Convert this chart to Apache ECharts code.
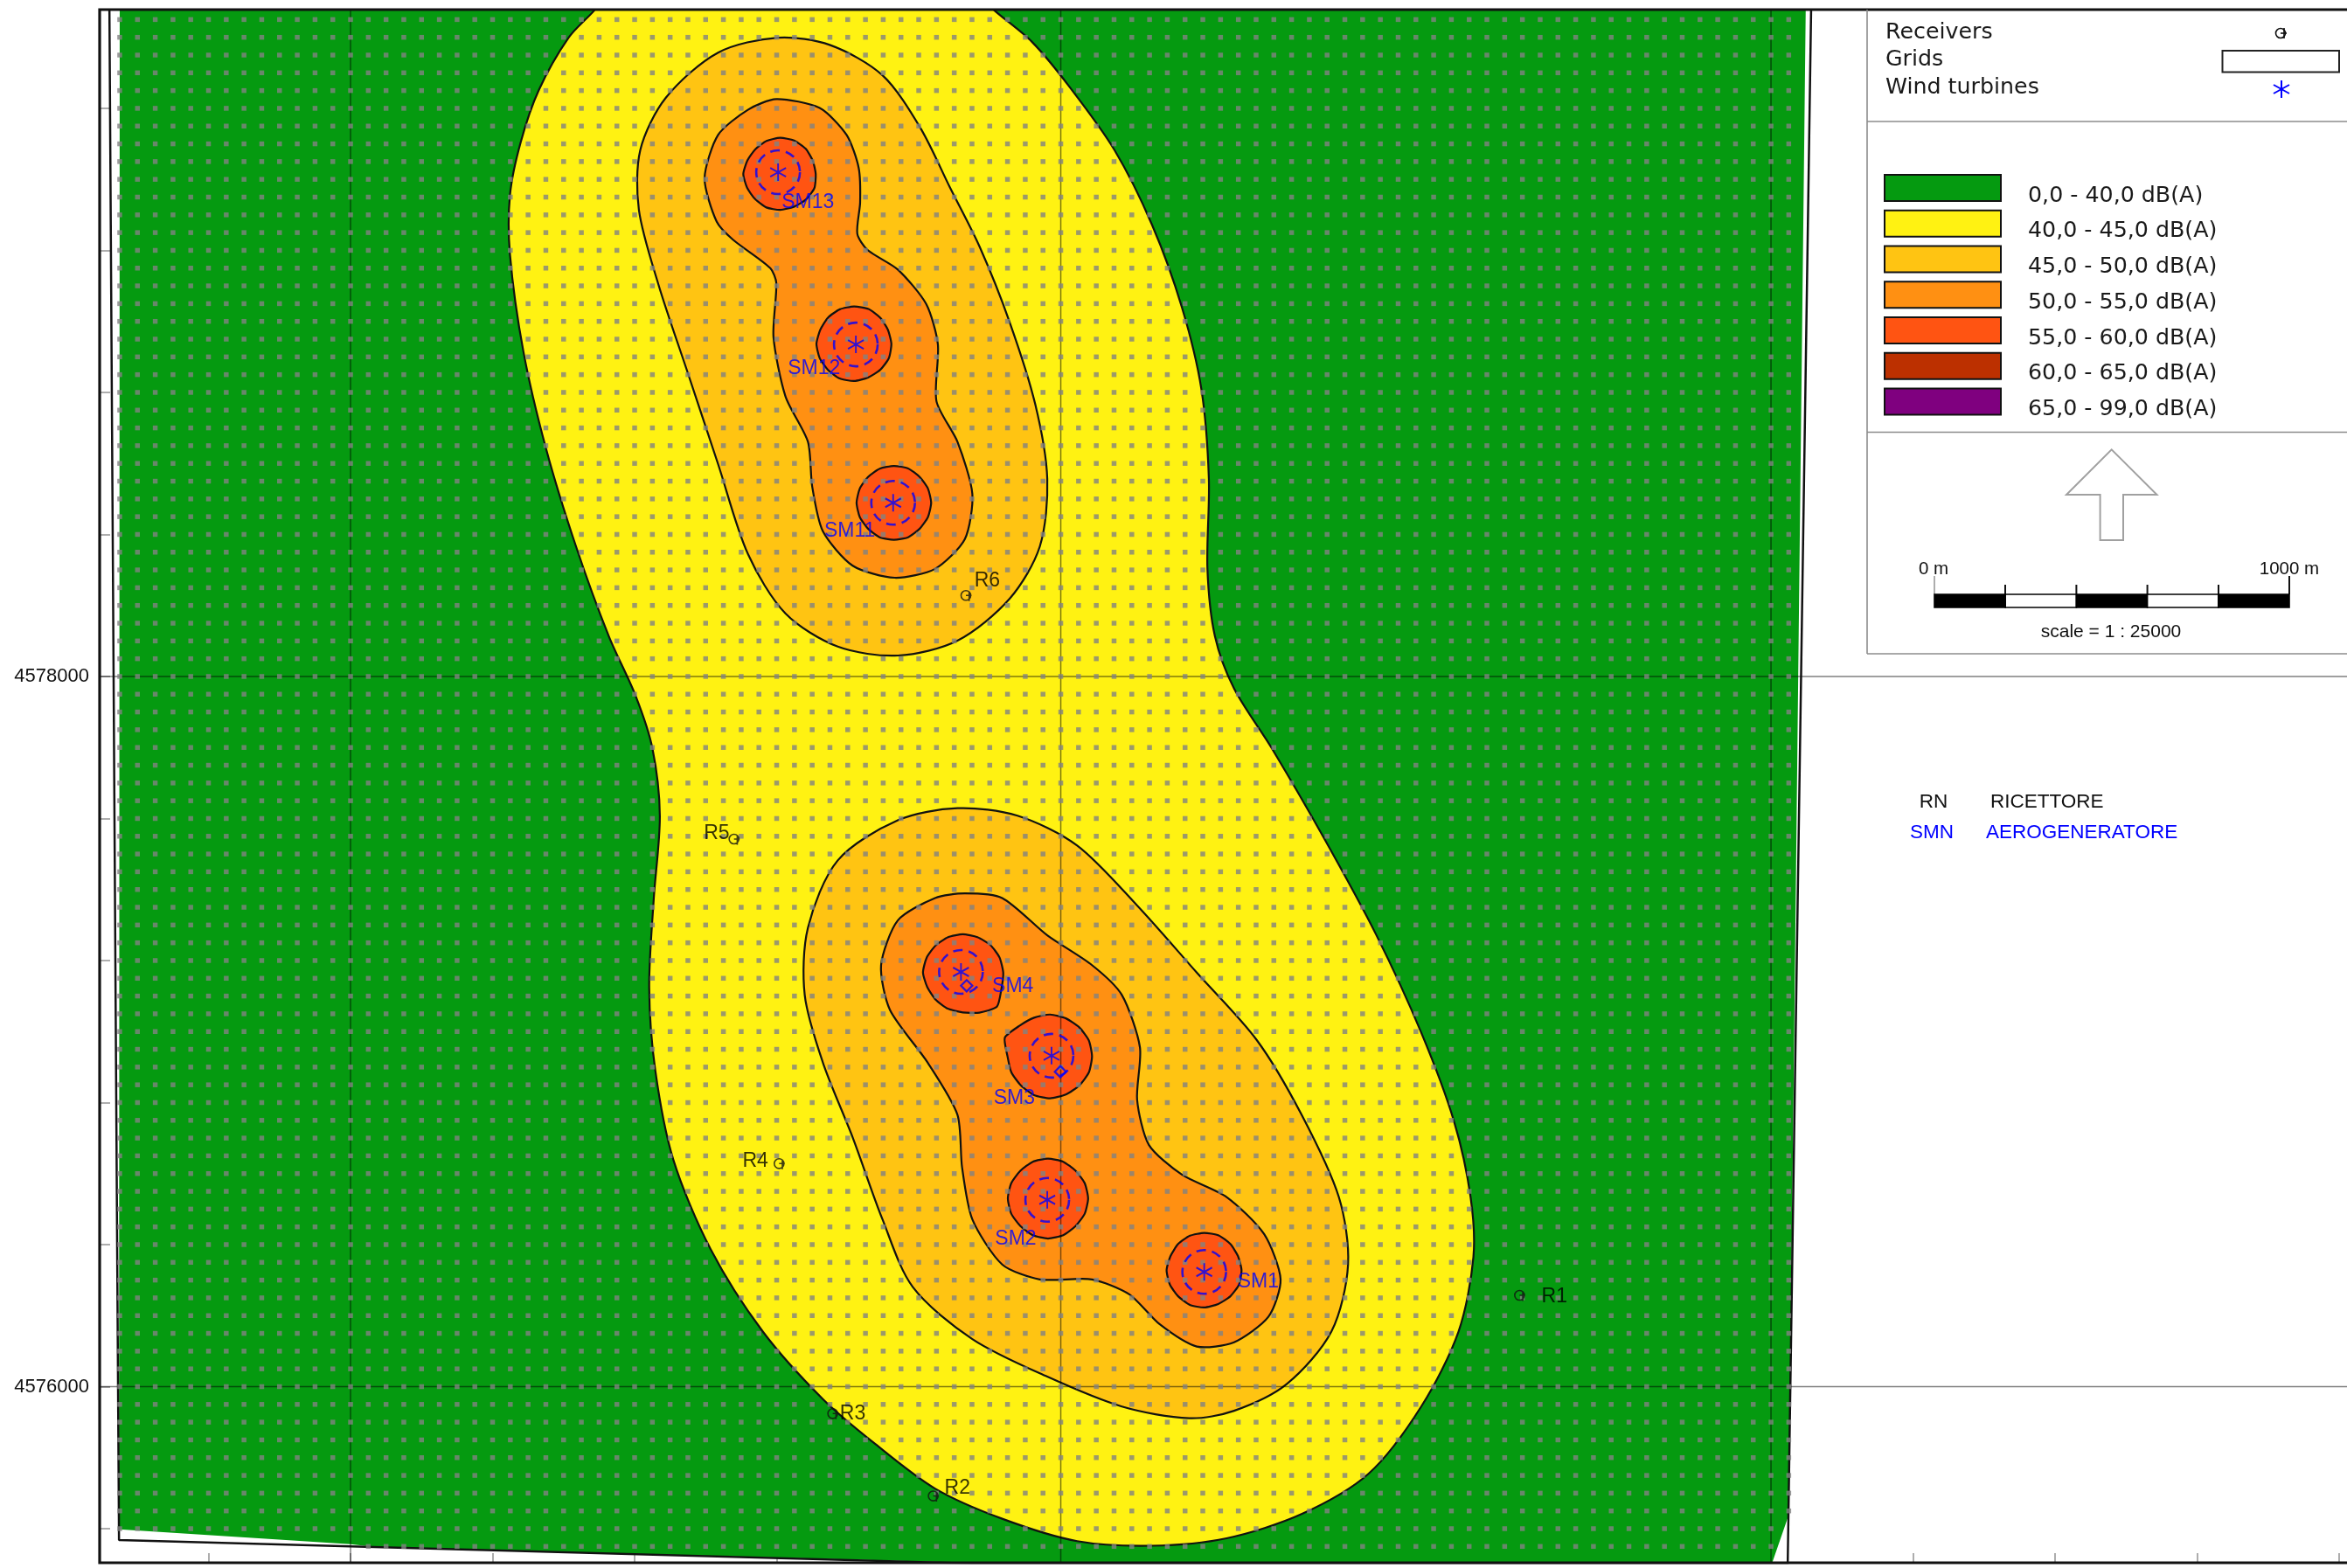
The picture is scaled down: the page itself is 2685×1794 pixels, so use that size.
<!DOCTYPE html>
<html><head><meta charset="utf-8">
<style>html,body{margin:0;padding:0;background:#fff}#c{width:2685px;height:1794px}</style>
<script src="https://cdn.jsdelivr.net/npm/echarts@6/dist/echarts.min.js"></script>
</head><body><div id="c"></div>
<script>
// All map data in metres: [easting, northing - NORTH_BASE]
const NORTH_BASE = 4575000;
const contourGreen = [[1350,4900],[1348,598],[2000,556],[2071,548],[3829,502],[3829,500],[6002,500],[6050,639],[6098,4900]];
const gridBoundary = [[1321,4880],[1348,568],[3829,500],[6047,500],[6113,4880]];
const contour40 = [[3760,4925],[3815,4874],[3920,4786],[4025,4660],[4151,4483],[4257,4272],[4341,4040],[4396,3809],[4417,3556],[4413,3303],[4434,3114],[4488,2966],[4594,2798],[4741,2545],[4889,2271],[5015,1997],[5108,1745],[5154,1534],[5162,1365],[5120,1155],[5015,944],[4867,755],[4678,641],[4467,573],[4257,552],[4046,565],[3835,628],[3646,713],[3477,839],[3330,965],[3161,1155],[3014,1387],[2909,1639],[2858,1892],[2841,2124],[2854,2376],[2871,2608],[2850,2798],[2803,2945],[2727,3114],[2635,3366],[2551,3640],[2487,3914],[2449,4188],[2449,4356],[2479,4504],[2530,4651],[2614,4799],[2685,4874],[2727,4925]];
const contour45North = [[3204,4799],[3351,4778],[3498,4693],[3604,4546],[3688,4377],[3772,4209],[3856,3998],[3928,3767],[3962,3556],[3941,3366],[3856,3219],[3709,3101],[3541,3059],[3372,3084],[3225,3177],[3119,3345],[3035,3598],[2951,3851],[2867,4104],[2812,4314],[2816,4483],[2888,4630],[3035,4757]];
const contour45South = [[3709,2629],[3878,2608],[4046,2524],[4215,2355],[4383,2166],[4552,1976],[4678,1766],[4783,1534],[4809,1344],[4762,1155],[4636,1007],[4488,932],[4362,911],[4172,944],[3962,1028],[3751,1134],[3583,1281],[3498,1471],[3414,1702],[3330,1913],[3279,2103],[3288,2292],[3372,2482],[3541,2595]];
const contour50North = [[3199,4626],[3321,4601],[3397,4525],[3431,4432],[3435,4335],[3427,4247],[3456,4201],[3541,4146],[3621,4049],[3654,3935],[3650,3775],[3709,3661],[3751,3514],[3730,3387],[3646,3303],[3532,3278],[3414,3312],[3330,3409],[3300,3535],[3288,3661],[3225,3788],[3191,3956],[3199,4108],[3182,4150],[3077,4230],[3031,4281],[2997,4403],[3035,4525],[3119,4596]];
const contour50South = [[3730,2389],[3835,2376],[3962,2271],[4088,2187],[4172,2103],[4223,1955],[4215,1808],[4248,1681],[4341,1597],[4467,1534],[4573,1429],[4619,1302],[4585,1197],[4488,1125],[4383,1113],[4278,1176],[4193,1260],[4088,1302],[3941,1302],[3835,1344],[3751,1471],[3722,1618],[3709,1766],[3625,1913],[3519,2061],[3494,2187],[3541,2313],[3646,2376]];
// 55 dB contours: centre [E,n] and radius in metres read at 16 bearings clockwise from north
const ring55Centres = [[3210,4415],[3418,3937],[3530,3489],[3724,2166],[3970,1930],[3964,1530],[4404,1328]];
const ring55Radii = [
 [102,102,101,99,100,104,102,100,101,102,100,101,104,100,99,101],
 [105,106,104,103,105,106,104,103,105,106,104,105,106,103,104,105],
 [104,105,103,104,105,104,103,105,104,105,103,104,105,104,103,104],
 [108,108,110,112,114,118,136,122,112,110,108,108,112,110,108,108],
 [118,116,116,118,118,118,116,116,118,118,116,118,120,138,122,118],
 [112,112,110,112,113,112,110,112,113,112,110,112,113,112,110,112],
 [105,106,104,103,105,106,104,103,105,106,104,105,106,103,104,105]];
const turbineNames = ['SM13','SM12','SM11','SM4','SM3','SM2','SM1'];
const turbinePos = [[3204,4420],[3423,3935],[3528,3489],[3719,2168],[3974,1932],[3962,1526],[4404,1323]];
const turbineLabelPos = [[3288,4335],[3305,3868],[3406,3409],[3865,2128],[3869,1812],[3873,1416],[4556,1294]];
const diamondPos = [[3735,2129],[3999,1887]];
const receiverNames = ['R1','R2','R3','R4','R5','R6'];
const receiverPos = [[5293,1256],[3642,691],[3359,923],[3208,1627],[3081,2541],[3734,3227]];
const receiverLabelPos = [[5390,1252],[3709,713],[3414,923],[3140,1635],[3031,2558],[3793,3270]];
const yTickValues = [4575600,4576000,4576400,4576800,4577200,4577600,4578000,4578400,4578800,4579200,4579600];
const xTickValues = [1600,2000,2400,2800,3200,3600,4000,4400,4800,5200,5600,6000,6400,6800,7200,7600];
const yLabelValues = [4576000,4578000];
const majorEast = [2000,4000,6000];
const majorNorth = [4576000,4578000];
const legendClasses = ['0,0 - 40,0 dB(A)','40,0 - 45,0 dB(A)','45,0 - 50,0 dB(A)','50,0 - 55,0 dB(A)','55,0 - 60,0 dB(A)','60,0 - 65,0 dB(A)','65,0 - 99,0 dB(A)'];
const classColors = ['#059a10','#fff212','#ffc412','#ff9012','#ff5412','#bc3000','#7f007f'];
const symbolLegend = ['Receivers','Grids','Wind turbines'];

const X_MIN=1293.5, X_MAX=7622, Y_MIN=4575504, Y_MAX=4579878;
const abs = pts => pts.map(p=>[p[0],p[1]+NORTH_BASE]);
const ringPts = (c,r)=> r.map((d,i)=>{const a=i*Math.PI/8;return [c[0]+d*Math.sin(a),c[1]+d*Math.cos(a)];});
function inside(pt,poly){let f=false;for(let i=0,j=poly.length-1;i<poly.length;j=i++){const a=poly[i],b=poly[j];
  if((a[1]>pt[1])!==(b[1]>pt[1])&&pt[0]<(b[0]-a[0])*(pt[1]-a[1])/(b[1]-a[1])+a[0])f=!f;}return f;}

// calculation lattice of the noise grid: one receiver point every 50 m, clipped to the grid area
const LATTICE_STEP = 50;
const latticePts=[];
for(let e=1350;e<=6100;e+=LATTICE_STEP)for(let n=500;n<=4850;n+=LATTICE_STEP){ if(inside([e,n-1],contourGreen)||inside([e+0.5,n+0.5],contourGreen)) latticePts.push([e,n+NORTH_BASE]); }

function band(name,pts,color,stroke,smooth,z){
  const P=abs(pts);
  return {type:'custom',name,coordinateSystem:'cartesian2d',clip:true,silent:true,z,animation:false,
    data:[[P[0][0],P[0][1]]],encode:{x:0,y:1},
    renderItem:(p,api)=>({type:'polygon',shape:{points:P.map(q=>api.coord(q)),smooth},
      style:{fill:color,stroke:stroke?'#111':null,lineWidth:2.2}})};
}
const bands=[
 band('g',contourGreen,classColors[0],false,0,2),
 band('c40',contour40,classColors[1],true,0.3,3),
 band('c45n',contour45North,classColors[2],true,0.3,4),
 band('c45s',contour45South,classColors[2],true,0.3,4),
 band('c50n',contour50North,classColors[3],true,0.25,5),
 band('c50s',contour50South,classColors[3],true,0.25,5)];
ring55Centres.forEach((c,i)=>bands.push(band('r'+i,ringPts(c,ring55Radii[i]),classColors[4],true,0.2,6)));

const lineSeries=[];
majorEast.forEach(e=>lineSeries.push({type:'line',data:[[e,Y_MIN],[e,Y_MAX]],showSymbol:false,silent:true,z:7,animation:false,lineStyle:{color:'rgba(0,0,0,0.5)',width:1.5}}));
majorNorth.forEach(n=>lineSeries.push({type:'line',data:[[X_MIN,n],[X_MAX,n]],showSymbol:false,silent:true,z:7,animation:false,lineStyle:{color:'rgba(0,0,0,0.5)',width:1.5}}));
lineSeries.push({type:'line',data:abs(gridBoundary),showSymbol:false,silent:true,z:7,animation:false,lineStyle:{color:'#111',width:2.5}});

const STAR='path://M10 0L10 20M1.3 5L18.7 15M1.3 15L18.7 5';
const RECV='path://M0 6A6 6 0 1 1 12 6A6 6 0 1 1 0 6ZM6 6L13 6M10 1L10 13';
const scatterBase={type:'scatter',silent:true,animation:false};
const labelSeries=(names,pos,color,z)=>({...scatterBase,z,symbolSize:1,itemStyle:{color:'rgba(0,0,0,0)'},
  data:abs(pos).map((p,i)=>({value:p,name:names[i]})),
  label:{show:true,position:'inside',formatter:'{b}',color,fontFamily:'Liberation Sans',fontSize:23}});

const series=[...bands,...lineSeries,
 {...scatterBase,z:8,data:latticePts,symbol:'rect',symbolSize:5.5,itemStyle:{color:'#828282'},progressive:0,large:false},
 {...scatterBase,z:9,data:abs(turbinePos),symbol:'circle',symbolSize:50,itemStyle:{color:'rgba(0,0,0,0)',borderColor:'#0000ff',borderWidth:2.6,borderType:[11,7]}},
 {...scatterBase,z:9,data:abs(turbinePos),symbol:STAR,symbolSize:[18,20],itemStyle:{color:'rgba(0,0,0,0)',borderColor:'#0000ff',borderWidth:2}},
 {...scatterBase,z:9,data:abs(diamondPos),symbol:'diamond',symbolSize:[13,13],itemStyle:{color:'rgba(0,0,0,0)',borderColor:'#0000ff',borderWidth:2.2}},
 {...scatterBase,z:9,data:abs(receiverPos),symbol:RECV,symbolSize:[12,12],itemStyle:{color:'rgba(0,0,0,0)',borderColor:'#111',borderWidth:1.6}},
 labelSeries(turbineNames,turbineLabelPos,'#0000ff',10),
 labelSeries(receiverNames,receiverLabelPos,'#000',10)
];

// page furniture: legend panel, north arrow, scale bar, notes
const GRAY='#8c8c8c';
const ln=(x1,y1,x2,y2,stroke,w)=>({type:'line',shape:{x1,y1,x2,y2},style:{stroke,lineWidth:w},z:20,silent:true});
const tx=(text,x,y,font,fill,align)=>({type:'text',x,y,z:21,silent:true,style:{text,font,fill,align:align||'left',verticalAlign:'middle'}});
const DV='25.3px "DejaVu Sans"';
const LS=s=>s+'px "Liberation Sans"';
const g=[
 {type:'rect',shape:{x:114,y:11,width:2573,height:1777},style:{fill:null,stroke:'#111',lineWidth:3.2},z:19,silent:true},
 {type:'rect',shape:{x:2136,y:12,width:560,height:736},style:{fill:'#fff',stroke:null},z:18,silent:true},
 ln(2136,11,2136,748,GRAY,1.6),ln(2136,139,2685,139,GRAY,1.6),ln(2136,494.5,2685,494.5,GRAY,1.6),ln(2136,748,2685,748,GRAY,1.6),
];
symbolLegend.forEach((t,i)=>g.push(tx(t,2157,37+i*31.7,DV,'#1a1a1a')));
g.push({type:'circle',shape:{cx:2609,cy:38,r:5.5},style:{fill:null,stroke:'#111',lineWidth:1.6},z:21,silent:true},
  ln(2609,38,2616,38,'#111',1.6),ln(2613,32,2613,44,'#111',1.6));
g.push({type:'rect',shape:{x:2542.5,y:58,width:133.5,height:24.5},style:{fill:'#fff',stroke:'#222',lineWidth:2},z:21,silent:true});
g.push(ln(2610,92,2610,112,'#0000ff',2),ln(2601,97,2619,107,'#0000ff',2),ln(2601,107,2619,97,'#0000ff',2));
legendClasses.forEach((t,i)=>{const y=200+i*40.75;
  g.push({type:'rect',shape:{x:2156,y,width:133,height:30},style:{fill:classColors[i],stroke:'#111',lineWidth:2},z:21,silent:true});
  g.push(tx(t,2320,224+i*40.75,DV,'#1a1a1a'));});
g.push({type:'polygon',shape:{points:[[2415.7,514.4],[2467.5,566],[2429,566],[2429,618],[2402.6,618],[2402.6,566],[2364,566]]},style:{fill:'#fff',stroke:'#a0a0a0',lineWidth:2},z:21,silent:true});
for(let i=0;i<5;i++){g.push({type:'rect',shape:{x:2213+i*81.2,y:680,width:81.2,height:15},style:{fill:i%2?'#fff':'#000',stroke:'#000',lineWidth:1.6},z:21,silent:true});}
g.push(ln(2213,659,2213,680,'#999',1.6),ln(2294,669,2294,680,'#111',2),ln(2375.4,669,2375.4,680,'#111',2),ln(2456.6,669,2456.6,680,'#111',2),ln(2538,669,2538,680,'#111',2),ln(2619,659,2619,680,'#111',2));
g.push(tx('0 m',2212,651,LS(20.5),'#111','center'),tx('1000 m',2619,651,LS(20.5),'#111','center'),tx('scale = 1 : 25000',2415,723,LS(21),'#111','center'));
g.push(tx('RN',2212,918,LS(22.5),'#111','center'),tx('RICETTORE',2277,918,LS(22.5),'#111'),tx('SMN',2210,953,LS(22.5),'#0000ff','center'),tx('AEROGENERATORE',2272,953,LS(22.5),'#0000ff'));

const chart=echarts.init(document.getElementById('c'),null,{renderer:'canvas',width:2685,height:1794});
chart.setOption({
 animation:false,backgroundColor:'#fff',
 grid:{left:114,top:11,width:2571,height:1777,show:false,containLabel:false},
 xAxis:{type:'value',min:X_MIN,max:X_MAX,splitLine:{show:false},axisLine:{show:false},
   axisLabel:{show:false,customValues:[]},
   axisTick:{show:true,inside:true,length:11,customValues:xTickValues,lineStyle:{color:'#999',width:1.6}}},
 yAxis:{type:'value',min:Y_MIN,max:Y_MAX,splitLine:{show:false},axisLine:{show:false},
   axisLabel:{show:true,customValues:yLabelValues,margin:12,color:'#111',fontFamily:'Liberation Sans',fontSize:22,formatter:v=>String(v)},
   axisTick:{show:true,inside:true,length:12,customValues:yTickValues,lineStyle:{color:'#999',width:1.6}}},
 series,graphic:{elements:g}
});
</script></body></html>
